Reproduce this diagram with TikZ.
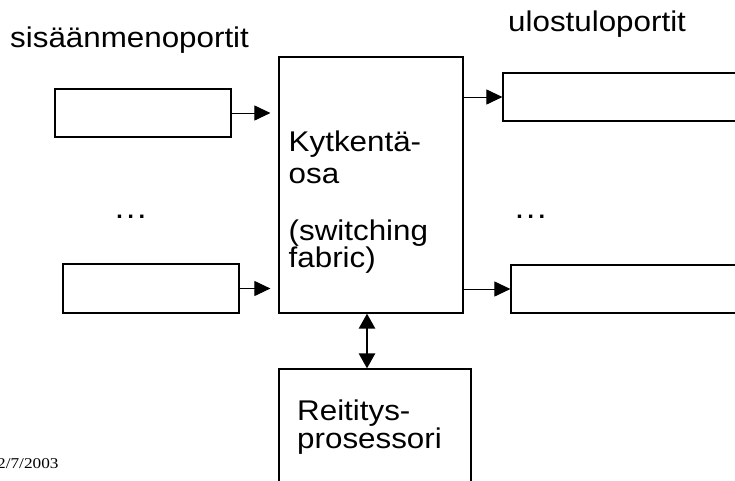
\documentclass[tikz,border=0pt]{standalone}
\usepackage{fontspec}
\setmainfont[FakeStretch=1.1]{Liberation Sans}
\newfontfamily\datefont[FakeStretch=1.15]{Liberation Serif}
\usetikzlibrary{arrows.meta}

\tikzset{
  box/.style={draw, line width=1.2pt, inner sep=0pt},
  lbl/.style={anchor=base west, inner sep=0pt, font=\fontsize{28.5}{30}\selectfont},
  dots/.style={anchor=base west, inner sep=0pt, font=\fontsize{32}{32}\selectfont},
  arr/.style={line width=1pt, -{Triangle[length=16pt,width=15pt]}},
  dbl/.style={line width=2.6pt, {Triangle[length=15pt,width=16pt]}-{Triangle[length=15pt,width=16pt]}}
}

\begin{document}
\begin{tikzpicture}[x=1pt,y=-1pt]
  \useasboundingbox (0,0) rectangle (735,480);

  % Ports
  \node[box, minimum width=176pt, minimum height=48pt] (in1)  at (143,113)   {};
  \node[box, minimum width=176pt, minimum height=49pt] (in2)  at (151,288.5) {};
  \node[box, minimum width=242pt, minimum height=48pt] (out1) at (624,97)    {};
  \node[box, minimum width=234pt, minimum height=48pt] (out2) at (628,289)   {};

  % Switching fabric and routing processor
  \node[box, minimum width=184pt, minimum height=256pt] (fabric) at (371,185)   {};
  \node[box, minimum width=192pt, minimum height=121pt] (router) at (375,429.5) {};

  % Texts
  \node[lbl] (inlabel)  at (10,47)  {sisäänmenoportit};
  \node[lbl] (outlabel) at (508,31) {ulostuloportit};
  \node[lbl] (fab1) at (288.5,151) {Kytkentä-};
  \node[lbl] (fab2) at (288.5,183) {osa};
  \node[lbl] (fab3) at (288.5,240) {(switching};
  \node[lbl] (fab4) at (288.5,267) {fabric)};
  \node[lbl] (rout1) at (297,420) {Reititys-};
  \node[lbl] (rout2) at (297,448) {prosessori};
  \node[dots] (indots)  at (113,218) {…};
  \node[dots] (outdots) at (513,218) {…};
  \node[anchor=base west, inner sep=0pt, font=\datefont\fontsize{15}{18}\selectfont] (date) at (-3,468) {2/7/2003};

  % Connectors
  \draw[arr, shorten >=8pt] (in1.east) -- (in1.east -| fabric.west);
  \draw[arr, shorten >=8pt] (in2.east) -- (in2.east -| fabric.west);
  \draw[arr] (out1.west -| fabric.east) -- (out1.west);
  \draw[arr] (out2.west -| fabric.east) -- (out2.west);
  \coordinate (link) at (367,0);
  \draw[dbl] (fabric.south -| link) -- (router.north -| link);
\end{tikzpicture}
\end{document}
